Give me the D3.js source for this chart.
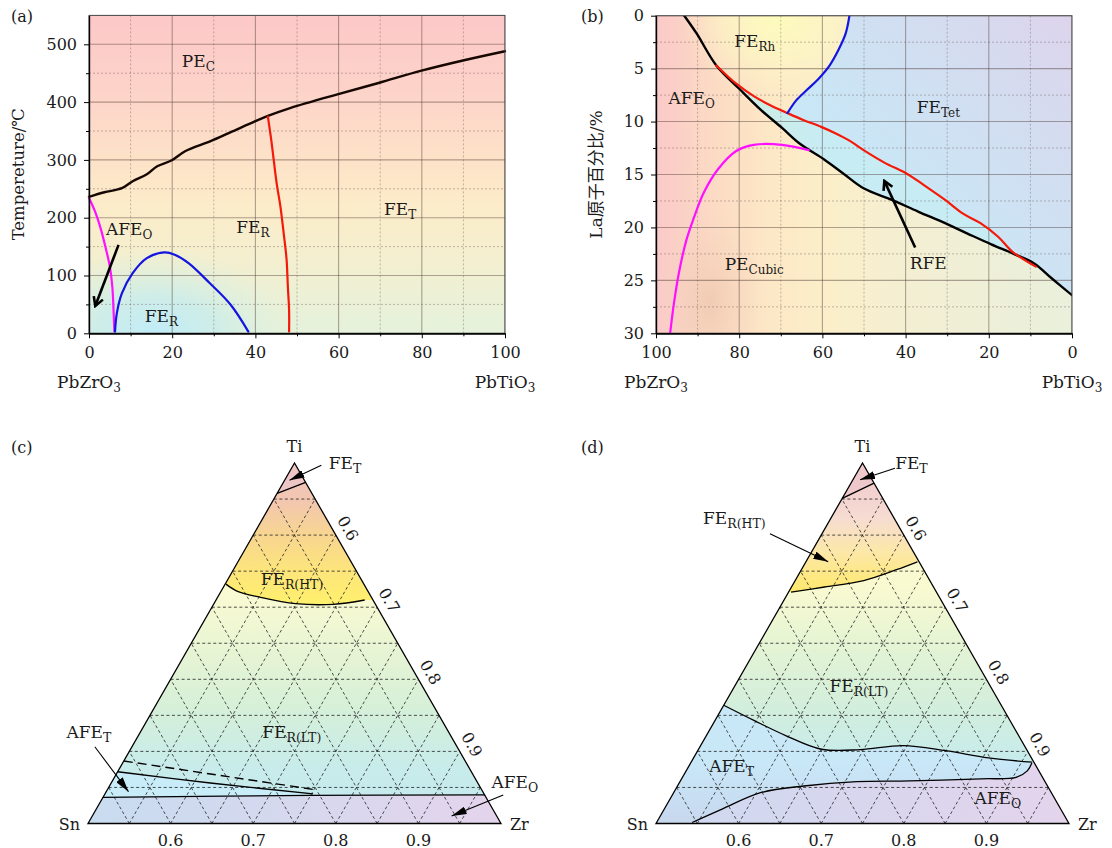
<!DOCTYPE html>
<html>
<head>
<meta charset="utf-8">
<script src="https://cdn.jsdelivr.net/npm/d3@7"></script>
<style>
  body { margin: 0; background: #fff; }
  text { font-family: "DejaVu Serif", "Noto Sans CJK SC", serif; fill: #1a1a1a; }
</style>
</head>
<body>
<svg id="fig" width="1112" height="848"></svg>
<script>
// ---------- (a) PbZrO3 - PbTiO3, temperature (x = PbTiO3 %) ----------
var tcA = [[0,236],[3.7,244],[7.9,251],[10.5,263],[13.9,275],[16.4,289],[19.8,299],[23.1,315],[29.1,332],[34.1,348],[40,367],[43,376],[48.5,390],[59.5,413],[69.6,433],[79.7,454],[89.9,472],[100,488]];
var afeA = [[0,234],[1.6,208],[2.9,179],[4.1,145],[5,116],[5.6,81],[5.9,40],[6.1,3]];
var domeA = [[6.25,3],[6.7,35],[7.9,69],[10.5,104],[13.9,130],[18.1,140],[20.6,136],[24,121],[29,87],[34.1,49],[38.3,3]];
var mpbA = [[43,375],[43.8,335],[45.1,260],[46,220],[46.8,173],[47.5,127],[47.8,81],[48.1,40],[48.1,3]];
var labelsA = [
  {x:22.3, y:460, t:"PE", s:"C"},
  {x:4.1, y:170, t:"AFE", s:"O"},
  {x:13.4, y:20, t:"FE", s:"R"},
  {x:35.4, y:173, t:"FE", s:"R"},
  {x:70.9, y:205, t:"FE", s:"T"}
];
var arrowA = [[7.1,153],[1.6,49]];
var xTicksA = [0,20,40,60,80,100];
var yTicksA = [0,100,200,300,400,500];

// ---------- (b) La-doped PZT (x = PbZrO3 %, y = La %) ----------
var cubB = [[93.2,0],[90.2,1.7],[85.5,4.7],[80,6.9],[74.8,8.9],[69.7,10.6],[65.4,12.1],[59.5,13.6],[55,14.9],[50.1,16.3],[43.3,17.4],[37,18.5],[30.5,19.6],[25,20.6],[19.4,21.6],[14,22.5],[9.1,23.4],[4.9,24.8],[0,26.4]];
var redB = [[85.5,4.7],[80.8,6.4],[76.5,7.6],[72.3,8.5],[68.4,9.2],[64.6,9.85],[60.3,10.5],[56.9,11.1],[53.5,11.8],[50.1,12.7],[45,13.9],[39.8,14.9],[35.6,16],[30.5,17.4],[26.2,18.7],[22,19.6],[17.7,20.9],[14.3,22.3],[8.7,23.7]];
var blueB = [[53.5,0],[54.4,1.67],[56.1,3.2],[58.2,4.66],[60.8,5.9],[63.7,7],[66.3,8],[68.4,9.2]];
var magB = [[96.6,30],[95.7,27.2],[94.5,24.3],[92.7,21.2],[91,19.2],[88.5,16.7],[85.1,14.5],[80.8,12.8],[76.5,12.2],[69.7,12.2],[63.3,12.7]];
var labelsB = [
  {x:81.2, y:2.93, t:"FE", s:"Rh"},
  {x:97, y:8.3, t:"AFE", s:"O"},
  {x:37.3, y:9.2, t:"FE", s:"Tet"},
  {x:83.5, y:24, t:"PE", s:"Cubic"},
  {x:39, y:23.9, t:"RFE", s:""}
];
var arrowB = [[37.7,21.9],[45,15.7]];
var xTicksB = [100,80,60,40,20,0];
var yTicksB = [0,5,10,15,20,25,30];

// ---------- (c), (d) partial ternary Zr-Sn-Ti, points are [Zr, Ti] ----------
var ternTicks = [0.6,0.7,0.8,0.9];
var feTC = [[0.5,0.458],[0.527,0.473]];
var htC = [[0.501,0.332],[0.52,0.322],[0.551,0.314],[0.5985,0.305],[0.645,0.304],[0.68,0.31]];
var dashC = [[0.5,0.0867],[0.754,0.0465]];
var afeTC = [[0.5,0.0718],[0.62,0.0562],[0.752,0.041]];
var afeOC = [[0.5,0.0363],[0.75,0.039],[0.961,0.0396]];
var labelsC = [
  {p:[0.546,0.491], t:"FE", s:"T"},
  {p:[0.5436,0.331], t:"FE", s:"R(HT)"},
  {p:[0.652,0.118], t:"FE", s:"R(LT)"},
  {p:[0.415,0.118], t:"AFE", s:"T"},
  {p:[0.964,0.0488], t:"AFE", s:"O"}
];
var arrowsC = [[[0.534,0.497],[0.506,0.476]], [[0.455,0.1065],[0.527,0.0441]], [[0.983,0.0395],[0.935,0.0104]]];

var feTD = [[0.5,0.451],[0.528,0.472]];
var htD = [[0.503,0.321],[0.54,0.328],[0.583,0.337],[0.615,0.352],[0.635,0.363]];
var ltD = [[0.5,0.164],[0.547,0.143],[0.596,0.122],[0.649,0.103],[0.696,0.1025],[0.745,0.108],[0.8,0.101],[0.857,0.091],[0.913,0.085]];
var afeOD = [[0.543,0.0014],[0.57,0.02],[0.606,0.043],[0.653,0.052],[0.714,0.058],[0.778,0.059],[0.863,0.062],[0.904,0.064],[0.913,0.073],[0.913,0.084]];
var labelsD = [
  {p:[0.544,0.491], t:"FE", s:"T"},
  {p:[0.349,0.416], t:"FE", s:"R(HT)"},
  {p:[0.619,0.182], t:"FE", s:"R(LT)"},
  {p:[0.529,0.071], t:"AFE", s:"T"},
  {p:[0.872,0.027], t:"AFE", s:"O"}
];
var arrowsD = [[[0.543,0.4926],[0.5086,0.4768]], [[0.437,0.402],[0.527,0.363]]];

var svg = d3.select("#fig");
var defs = svg.append("defs");

function linGrad(id, x1, y1, x2, y2, stops) {
  var g = defs.append("linearGradient").attr("id", id).attr("gradientUnits", "userSpaceOnUse")
    .attr("x1", x1).attr("y1", y1).attr("x2", x2).attr("y2", y2);
  stops.forEach(function (s) {
    g.append("stop").attr("offset", s[0]).attr("stop-color", s[1]).attr("stop-opacity", s[2] == null ? 1 : s[2]);
  });
}
function radGrad(id, stops) {
  var g = defs.append("radialGradient").attr("id", id);
  stops.forEach(function (s) {
    g.append("stop").attr("offset", s[0]).attr("stop-color", s[1]).attr("stop-opacity", s[2] == null ? 1 : s[2]);
  });
}

// arrow heads
defs.append("marker").attr("id", "vhead").attr("viewBox", "0 0 12 12").attr("refX", 9).attr("refY", 6)
  .attr("markerWidth", 13).attr("markerHeight", 13).attr("markerUnits", "userSpaceOnUse").attr("orient", "auto")
  .append("path").attr("d", "M2,1.5 L10,6 L2,10.5").attr("fill", "none").attr("stroke", "#000").attr("stroke-width", 2.4);
defs.append("marker").attr("id", "thead").attr("viewBox", "0 0 15 8").attr("refX", 15).attr("refY", 4)
  .attr("markerWidth", 15).attr("markerHeight", 8).attr("markerUnits", "userSpaceOnUse").attr("orient", "auto")
  .append("path").attr("d", "M0,0 L15,4 L0,8 Z").attr("fill", "#000");

function label(g, x, y, main, sub, size, anchor, subSize) {
  var t = g.append("text").attr("x", x).attr("y", y).style("font-size", (size || 17) + "px")
    .attr("text-anchor", anchor || "start");
  t.append("tspan").text(main);
  if (sub) t.append("tspan").attr("dy", 4).style("font-size", (subSize || 12) + "px").text(sub);
  return t;
}

// shared bits for the two rectangular panels
function drawGrid(g, x, y, xMaj, xMin, yMaj, yMin, clip) {
  var x0 = d3.min(x.range()), x1 = d3.max(x.range());
  var y0 = d3.min(y.range()), y1 = d3.max(y.range());
  var gg = g.append("g").attr("clip-path", "url(#" + clip + ")");
  gg.selectAll(".gxm").data(xMin).enter().append("line")
    .attr("x1", function (d) { return x(d); }).attr("x2", function (d) { return x(d); })
    .attr("y1", y0).attr("y2", y1).attr("stroke", "rgba(90,70,70,0.35)").attr("stroke-dasharray", "2,2");
  gg.selectAll(".gym").data(yMin).enter().append("line")
    .attr("y1", function (d) { return y(d); }).attr("y2", function (d) { return y(d); })
    .attr("x1", x0).attr("x2", x1).attr("stroke", "rgba(90,70,70,0.35)").attr("stroke-dasharray", "2,2");
  gg.selectAll(".gx").data(xMaj).enter().append("line")
    .attr("x1", function (d) { return x(d); }).attr("x2", function (d) { return x(d); })
    .attr("y1", y0).attr("y2", y1).attr("stroke", "rgba(80,60,55,0.45)").attr("stroke-width", 1.1);
  gg.selectAll(".gy").data(yMaj).enter().append("line")
    .attr("y1", function (d) { return y(d); }).attr("y2", function (d) { return y(d); })
    .attr("x1", x0).attr("x2", x1).attr("stroke", "rgba(80,60,55,0.45)").attr("stroke-width", 1.1);
  return gg;
}
function drawAxes(g, x, y, xt, yt, xMin, yMin) {
  var x0 = d3.min(x.range()), x1 = d3.max(x.range());
  var y0 = d3.min(y.range()), y1 = d3.max(y.range());
  g.append("rect").attr("x", x0).attr("y", y0).attr("width", x1 - x0).attr("height", y1 - y0)
    .attr("fill", "none").attr("stroke", "#444").attr("stroke-width", 1);
  var ax = g.append("g").attr("transform", "translate(0," + y1 + ")")
    .call(d3.axisBottom(x).tickValues(xt).tickSize(5).tickSizeOuter(0).tickPadding(8));
  ax.selectAll("text").style("font-size", "16px");
  g.append("g").attr("transform", "translate(0," + y1 + ")")
    .call(d3.axisBottom(x).tickValues(xMin).tickSize(3).tickSizeOuter(0).tickFormat(""));
  var ay = g.append("g").attr("transform", "translate(" + x0 + ",0)")
    .call(d3.axisLeft(y).tickValues(yt).tickSize(5).tickSizeOuter(0).tickPadding(7));
  ay.selectAll("text").style("font-size", "16px");
  g.append("g").attr("transform", "translate(" + x0 + ",0)")
    .call(d3.axisLeft(y).tickValues(yMin).tickSize(3).tickSizeOuter(0).tickFormat(""));
  g.selectAll(".domain").attr("stroke", "#000").attr("stroke-width", 1.2);
  g.selectAll(".tick line").attr("stroke", "#000");
}
function drawCurve(g, pts, x, y, color, w) {
  return g.append("path").datum(pts)
    .attr("d", d3.line().x(function (d) { return x(d[0]); }).y(function (d) { return y(d[1]); }).curve(d3.curveCatmullRom))
    .attr("fill", "none").attr("stroke", color).attr("stroke-width", w || 2.2)
    .attr("stroke-linejoin", "round").attr("stroke-linecap", "round");
}

// ======================= panel (a) =======================
var xA = d3.scaleLinear().domain([0, 100]).range([89, 505]);
var yA = d3.scaleLinear().domain([0, 550]).range([333.3, 15.4]);
var gA = svg.append("g");
defs.append("clipPath").attr("id", "clipA").append("rect")
  .attr("x", xA(0)).attr("y", yA(550)).attr("width", xA(100) - xA(0)).attr("height", yA(0) - yA(550));

linGrad("bgA", 0, yA(550), 0, yA(0), [[0, "#fcc8c8"], [0.25, "#fdd4c9"], [0.45, "#fde2c8"], [0.6, "#fcecc9"], [0.76, "#f4efcf"], [1, "#e5f2dc"]]);
radGrad("cyanA", [[0, "#c0ecf8"], [0.45, "#c8ecec", 0.8], [1, "#d8f0e0", 0]]);
var bgA = gA.append("g").attr("clip-path", "url(#clipA)");
bgA.append("rect").attr("x", xA(0)).attr("y", yA(550)).attr("width", xA(100) - xA(0)).attr("height", yA(0) - yA(550)).attr("fill", "url(#bgA)");
bgA.append("ellipse").attr("cx", xA(16)).attr("cy", yA(0)).attr("rx", 135).attr("ry", 85).attr("fill", "url(#cyanA)");

drawGrid(gA, xA, yA, xTicksA, [10, 30, 50, 70, 90], yTicksA, [50, 150, 250, 350, 450], "clipA");
drawCurve(gA, tcA, xA, yA, "#160800", 2.4);
drawCurve(gA, afeA, xA, yA, "#ff10ff");
drawCurve(gA, domeA, xA, yA, "#1515e0");
drawCurve(gA, mpbA, xA, yA, "#f41a0a");
drawAxes(gA, xA, yA, xTicksA, yTicksA, [10, 30, 50, 70, 90], [50, 150, 250, 350, 450]);

gA.append("line").attr("x1", xA(arrowA[0][0])).attr("y1", yA(arrowA[0][1]))
  .attr("x2", xA(arrowA[1][0])).attr("y2", yA(arrowA[1][1]))
  .attr("stroke", "#000").attr("stroke-width", 2.6).attr("marker-end", "url(#vhead)");
labelsA.forEach(function (d) { label(gA, xA(d.x), yA(d.y), d.t, d.s); });

label(gA, xA(0), 388, "PbZrO", "3", 17, "middle");
label(gA, xA(100), 388, "PbTiO", "3", 17, "middle");
gA.append("text").attr("transform", "translate(24," + ((yA(0) + yA(550)) / 2) + ") rotate(-90)")
  .attr("text-anchor", "middle").style("font-size", "16.5px").text("Tempereture/℃");
gA.append("text").attr("x", 11).attr("y", 22).style("font-size", "16px").text("(a)");

// ======================= panel (b) =======================
var xB = d3.scaleLinear().domain([100, 0]).range([656, 1072]);
var yB = d3.scaleLinear().domain([0, 30]).range([15.7, 333.3]);
var gB = svg.append("g");
defs.append("clipPath").attr("id", "clipB").append("rect")
  .attr("x", xB(100)).attr("y", yB(0)).attr("width", xB(0) - xB(100)).attr("height", yB(30) - yB(0));

linGrad("bgB", xB(100), 0, xB(0), 0, [[0, "#fbc9c9"], [0.06, "#fbd1c6"], [0.15, "#fcdcc4"], [0.28, "#fde8c6"], [0.42, "#fbefca"], [0.62, "#f3efd3"], [1, "#e9f0dc"]]);
radGrad("yelB", [[0, "#fdfcbc"], [0.55, "#fcf6c4", 0.7], [1, "#fcf0c8", 0]]);
radGrad("brnB", [[0, "#eec6ae", 0.75], [0.6, "#f2d0b8", 0.35], [1, "#f4d8c0", 0]]);
linGrad("tetB", xB(50), yB(20), xB(0), yB(0), [[0, "#c6eaf8"], [0.5, "#d0e0f2"], [1, "#ddd4ec"]]);
linGrad("rfeB", xB(86), 0, xB(60), 0, [[0, "#cdeedc"], [1, "#c8ecf4"]]);

var bgB = gB.append("g").attr("clip-path", "url(#clipB)");
bgB.append("rect").attr("x", xB(100)).attr("y", yB(0)).attr("width", xB(0) - xB(100)).attr("height", yB(30) - yB(0)).attr("fill", "url(#bgB)");
bgB.append("ellipse").attr("cx", xB(71)).attr("cy", yB(0)).attr("rx", 95).attr("ry", 85).attr("fill", "url(#yelB)");
bgB.append("ellipse").attr("cx", xB(87)).attr("cy", yB(27)).attr("rx", 55).attr("ry", 95).attr("fill", "url(#brnB)");

var lineB = d3.line().x(function (d) { return xB(d[0]); }).y(function (d) { return yB(d[1]); }).curve(d3.curveCatmullRom);
var rfePath = lineB(redB) + lineB(cubB.filter(function (d) { return d[0] > 9 && d[0] <= 85.5; }).reverse()).replace(/^M/, "L") + "Z";
bgB.append("path").attr("d", rfePath).attr("fill", "url(#rfeB)");
var tetPath = lineB(blueB) +
  lineB(redB.filter(function (d) { return d[0] <= 68.4; })).replace(/^M/, "L") +
  lineB(cubB.filter(function (d) { return d[0] < 9; })).replace(/^M/, "L") +
  "L" + xB(0) + "," + yB(0) + "Z";
bgB.append("path").attr("d", tetPath).attr("fill", "url(#tetB)");

drawGrid(gB, xB, yB, xTicksB, [90, 70, 50, 30, 10], yTicksB, [2.5, 7.5, 12.5, 17.5, 22.5, 27.5], "clipB");
var curvesB = gB.append("g").attr("clip-path", "url(#clipB)");
drawCurve(curvesB, cubB, xB, yB, "#000", 2.4);
drawCurve(curvesB, redB, xB, yB, "#f41a0a");
drawCurve(curvesB, blueB, xB, yB, "#1515e0");
drawCurve(curvesB, magB, xB, yB, "#ff10ff");
drawAxes(gB, xB, yB, xTicksB, yTicksB, [90, 70, 50, 30, 10], [2.5, 7.5, 12.5, 17.5, 22.5, 27.5]);

gB.append("line").attr("x1", xB(arrowB[0][0])).attr("y1", yB(arrowB[0][1]))
  .attr("x2", xB(arrowB[1][0])).attr("y2", yB(arrowB[1][1]))
  .attr("stroke", "#000").attr("stroke-width", 2.6).attr("marker-end", "url(#vhead)");
labelsB.forEach(function (d) { label(gB, xB(d.x), yB(d.y), d.t, d.s); });

label(gB, xB(100), 388, "PbZrO", "3", 17, "middle");
label(gB, xB(0), 388, "PbTiO", "3", 17, "middle");
gB.append("text").attr("transform", "translate(602," + ((yB(0) + yB(30)) / 2) + ") rotate(-90)")
  .attr("text-anchor", "middle").style("font-size", "17px").text("La原子百分比/%");
gB.append("text").attr("x", 581).attr("y", 22).style("font-size", "16px").text("(b)");

// ======================= ternary panels =======================
var zrScale = d3.scaleLinear().domain([0.5, 1]).range([0, 1]);
var tiScale = d3.scaleLinear().domain([0, 0.5]).range([0, 1]);

function projector(T) {
  return function (p) {
    var wz = zrScale(p[0]), wt = tiScale(p[1]), ws = 1 - wz - wt;
    return [ws * T.sn[0] + wz * T.zr[0] + wt * T.ti[0], ws * T.sn[1] + wz * T.zr[1] + wt * T.ti[1]];
  };
}

function ternary(T, id, bands, curves, dashed, labels, arrows, tag, tagX) {
  var P = projector(T);
  var g = svg.append("g");
  var tri = [T.sn, T.zr, T.ti];
  defs.append("clipPath").attr("id", id).append("path").attr("d", d3.line()(tri) + "Z");
  var cr = d3.line().curve(d3.curveCatmullRom);

  var bg = g.append("g").attr("clip-path", "url(#" + id + ")");
  bands.forEach(function (b) {
    if (!b.pts) {
      bg.append("path").attr("d", d3.line()(tri) + "Z").attr("fill", b.fill);
      return;
    }
    var px = b.pts.map(P);
    var f = px[0], l = px[px.length - 1];
    var far = b.up ? 300 : 900;
    var d = "M" + (f[0] - 80) + "," + f[1] + cr(px).replace(/^M/, "L") +
      "L" + (l[0] + 80) + "," + l[1] + "L" + (l[0] + 80) + "," + far + "L" + (f[0] - 80) + "," + far + "Z";
    bg.append("path").attr("d", d).attr("fill", b.fill);
  });

  // triangular dashed grid
  var gl = [];
  for (var k = 1; k <= 9; k++) {
    var ti = k * 0.05, zr = 0.5 + k * 0.05, sn = k * 0.05;
    gl.push([[0.5, ti], [1 - ti, ti]]);
    gl.push([[zr, 0], [zr, 1 - zr]]);
    gl.push([[1 - sn, 0], [0.5, 0.5 - sn]]);
  }
  g.selectAll(".tg").data(gl).enter().append("path")
    .attr("d", function (d) { return d3.line()(d.map(P)); })
    .attr("stroke", "#222").attr("stroke-width", 0.8).attr("stroke-dasharray", "3,2.5").attr("fill", "none");

  curves.forEach(function (c) {
    g.append("path").attr("d", cr(c.map(P))).attr("fill", "none").attr("stroke", "#000").attr("stroke-width", 1.3);
  });
  dashed.forEach(function (c) {
    g.append("path").attr("d", cr(c.map(P))).attr("fill", "none").attr("stroke", "#000")
      .attr("stroke-width", 1.4).attr("stroke-dasharray", "9,5");
  });

  g.append("path").attr("d", d3.line()(tri) + "Z").attr("fill", "none").attr("stroke", "#000").attr("stroke-width", 1.3);

  arrows.forEach(function (a) {
    var s = P(a[0]), e = P(a[1]);
    g.append("line").attr("x1", s[0]).attr("y1", s[1]).attr("x2", e[0]).attr("y2", e[1])
      .attr("stroke", "#000").attr("stroke-width", 1.1).attr("marker-end", "url(#thead)");
  });
  labels.forEach(function (d) { var p = P(d.p); label(g, p[0], p[1], d.t, d.s, 17, "start", 12.5); });

  // bottom tick labels (Zr fraction)
  var base = d3.scaleLinear().domain([0.5, 1]).range([T.sn[0], T.zr[0]]);
  g.selectAll(".bt").data(ternTicks).enter().append("text")
    .attr("x", function (d) { return base(d); }).attr("y", T.sn[1] + 22)
    .attr("text-anchor", "middle").style("font-size", "16px").text(function (d) { return d.toFixed(1); });
  // right edge tick labels (Sn = 0)
  var dx = T.zr[0] - T.ti[0], dy = T.zr[1] - T.ti[1], len = Math.sqrt(dx * dx + dy * dy);
  var nx = dy / len, ny = -dx / len, ang = Math.atan2(dy, dx) * 180 / Math.PI;
  ternTicks.forEach(function (v) {
    var p = P([v, 1 - v]);
    g.append("text").attr("transform", "translate(" + (p[0] + nx * 14) + "," + (p[1] + ny * 14) + ") rotate(" + ang + ")")
      .attr("text-anchor", "middle").attr("dy", "0.35em").style("font-size", "16px").text(v.toFixed(1));
  });

  g.append("text").attr("x", T.ti[0]).attr("y", T.ti[1] - 11).attr("text-anchor", "middle").style("font-size", "16px").text("Ti");
  g.append("text").attr("x", T.sn[0] - 8).attr("y", T.sn[1] + 6).attr("text-anchor", "end").style("font-size", "16px").text("Sn");
  g.append("text").attr("x", T.zr[0] + 9).attr("y", T.zr[1] + 6).attr("text-anchor", "start").style("font-size", "16px").text("Zr");
  g.append("text").attr("x", tagX).attr("y", 453).style("font-size", "16px").text(tag);
}

var TC = {sn: [88, 823.5], zr: [501, 823.5], ti: [294.5, 463]};
var TD = {sn: [656, 823.5], zr: [1069, 823.5], ti: [862.5, 463]};

linGrad("ltC", 0, 590, 0, 823, [[0, "#fbfbd2"], [0.28, "#e6f4d4"], [0.5, "#d6f0d8"], [0.75, "#c8ecea"], [1, "#c6eaf0"]]);
linGrad("htC", 0, 463, 0, 610, [[0, "#f0c6c6"], [0.25, "#f2c6b0"], [0.5, "#f8d690"], [0.75, "#fde67a"], [1, "#fff26a"]]);
linGrad("aoC", TC.sn[0], 0, TC.zr[0], 0, [[0, "#c8dcf0"], [0.5, "#d6d8ee"], [1, "#e4d4ec"]]);

ternary(TC, "clipC", [
  {fill: "url(#ltC)"},
  {pts: htC, up: true, fill: "url(#htC)"},
  {pts: feTC, up: true, fill: "#efc6c6"},
  {pts: afeTC, up: false, fill: "#c8ecf8"},
  {pts: afeOC, up: false, fill: "url(#aoC)"}
], [feTC, htC, afeTC, afeOC], [dashC], labelsC, arrowsC, "(c)", 11);

linGrad("ltD", 0, 585, 0, 760, [[0, "#fafad0"], [0.35, "#e4f4d4"], [0.7, "#d2eedc"], [1, "#c8ecec"]]);
linGrad("htD", 0, 463, 0, 600, [[0, "#eec6ca"], [0.4, "#f6dcd2"], [0.65, "#fce8a8"], [1, "#ffe860"]]);
linGrad("atD", 0, 760, 0, 823, [[0, "#c8e8f8"], [1, "#c8d8ee"]]);
linGrad("aoD", TD.sn[0], 0, TD.zr[0], 0, [[0, "#cddaf0"], [0.5, "#d8d6ee"], [1, "#e4d4ec"]]);

ternary(TD, "clipD", [
  {fill: "url(#ltD)"},
  {pts: htD, up: true, fill: "url(#htD)"},
  {pts: feTD, up: true, fill: "#efc8cc"},
  {pts: ltD, up: false, fill: "url(#atD)"},
  {pts: afeOD, up: false, fill: "url(#aoD)"}
], [feTD, htD, ltD, afeOD], [], labelsD, arrowsD, "(d)", 581);
</script>
</body>
</html>
